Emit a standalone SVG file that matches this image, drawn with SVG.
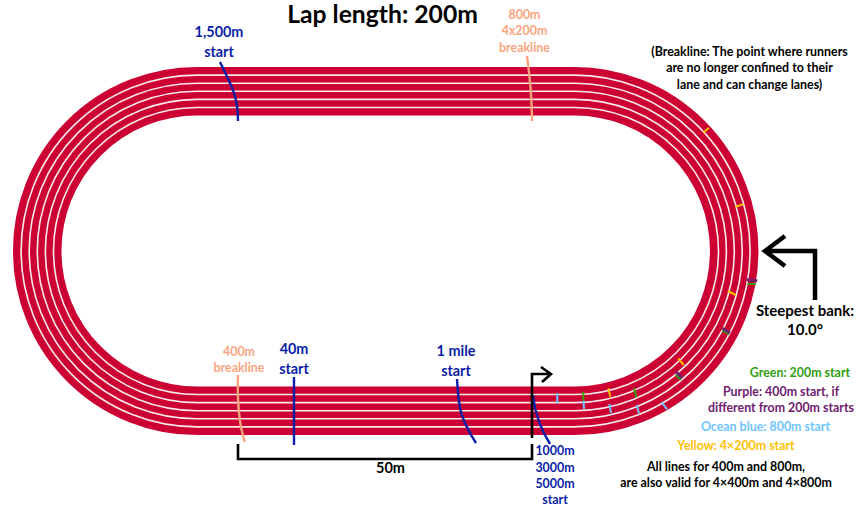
<svg xmlns="http://www.w3.org/2000/svg" width="861" height="507" viewBox="0 0 861 507">
<style>
text{font-family:"Lato","Carlito","Liberation Sans",sans-serif;font-weight:700;text-anchor:middle}
.t{font-size:12.4px;fill:#0a1ea8}
.b{fill:#0a1ea8;font-size:14.4px}
.o{fill:#fca47e;font-size:12.4px}
.k{fill:#000;font-size:12.4px}
.ln{fill:none;stroke:#faeaed;stroke-width:1.6}
.m{fill:none;stroke-width:2;stroke-linecap:butt}
.g{stroke:#2fa012}.p{stroke:#70206f;stroke-width:3}.c{stroke:#6ec6ff}.y{stroke:#ffc000}
.cv{fill:none;stroke-width:2.4}
.blk{fill:none;stroke:#000;stroke-width:2.6}
</style>
<rect width="861" height="507" fill="#fff"/>
<g id="track">
<rect x="37.2" y="91.2" width="697" height="319.6" rx="159.8" fill="none" stroke="#cc0033" stroke-width="48.5"/>
<rect x="21.1" y="75.1" width="729" height="351.8" rx="175.9" class="ln"/>
<rect x="29.2" y="83.2" width="713" height="335.6" rx="167.8" class="ln"/>
<rect x="37.3" y="91.3" width="697" height="319.4" rx="159.7" class="ln"/>
<rect x="45.4" y="99.4" width="681" height="303.2" rx="151.6" class="ln"/>
<rect x="53.5" y="107.5" width="665" height="287" rx="143.5" class="ln"/>
</g>
<g id="connectors">
<g id="marks">
<path class="m c" d="M557.3 393.3V403.3M583.5 400.7L584 409M609.3 404L611 412.7M636.7 405L639 413.3M661.7 402L667 409.3"/>
<path class="m g" d="M583.3 391.7V400.7M634 388.3L636.3 397.3M675.7 375L681 380M747.3 284H756M722.3 330.7L729.3 334"/>
<path class="m y" d="M608.3 388.3L610.3 396.7M678.3 358.3L683.7 365M703.3 132.7L709 127.7M735.3 206.7L743.3 204.3M727.7 291L735.7 295"/>
<path class="m p" d="M676 372L682 377.7M746.7 279.7L757.3 280.7M722.3 328.3L730 332.7"/>
</g>
<path class="cv" stroke="#0a1ea8" d="M220 62C231 85 238 95 238 121"/>
<path class="cv" stroke="#fca47e" d="M527 56C531 85 532 100 532 121"/>
<path class="cv" stroke="#fca47e" d="M238 375C237 405 239 425 245 442"/>
<path class="cv" stroke="#0a1ea8" d="M294 377V445"/>
<path class="cv" stroke="#0a1ea8" d="M457 379C458 395 459 405 461 412C463 420 470 434 476 443"/>
<path class="cv" stroke="#0a1ea8" d="M533 395C535 415 541 430 550 444"/>
<path class="blk" d="M238 444V459H532V444"/>
<path class="blk" d="M532 438V374H551M541 367L551 374L542 382"/>
<path fill="none" stroke="#000" stroke-width="4.5" d="M815 300V251H765M785 236L765 251L785 266"/>
</g>
<g id="labels">
<text x="382.5" y="23" style="font-size:24.7px">Lap length: 200m</text>
<text class="b" x="219" y="37">1,500m</text><text class="b" x="219" y="57">start</text>
<text class="o" x="524.5" y="19">800m</text><text class="o" x="524.5" y="35">4x200m</text><text class="o" x="524.5" y="52">breakline</text>
<text class="k" x="749.5" y="56">(Breakline: The point where runners</text>
<text class="k" x="749.5" y="72">are no longer confined to their</text>
<text class="k" x="749.5" y="89">lane and can change lanes)</text>
<text x="805" y="316" style="font-size:15px">Steepest bank:</text>
<text x="805" y="335" style="font-size:15px">10.0°</text>
<text class="o" x="239" y="356">400m</text><text class="o" x="239" y="372">breakline</text>
<text class="b" x="294" y="354">40m</text><text class="b" x="294" y="374">start</text>
<text class="b" x="456" y="356">1 mile</text><text class="b" x="456" y="376">start</text>
<text x="390.5" y="473" style="font-size:14.5px">50m</text>
<text class="t" x="555" y="455">1000m</text>
<text class="t" x="555" y="472">3000m</text>
<text class="t" x="555" y="488">5000m</text>
<text class="t" x="555" y="504">start</text>
<text class="k" x="800" y="377" style="fill:#2fa012">Green: 200m start</text>
<text class="k" x="781" y="396" style="fill:#70206f">Purple: 400m start, if</text>
<text class="k" x="781" y="412" style="fill:#70206f">different from 200m starts</text>
<text class="k" x="765.5" y="431" style="fill:#6ec6ff">Ocean blue: 800m start</text>
<text class="k" x="736" y="450" style="fill:#ffc000">Yellow: 4×200m start</text>
<text class="k" x="726" y="471">All lines for 400m and 800m,</text>
<text class="k" x="726" y="487">are also valid for 4×400m and 4×800m</text>
</g>
</svg>
